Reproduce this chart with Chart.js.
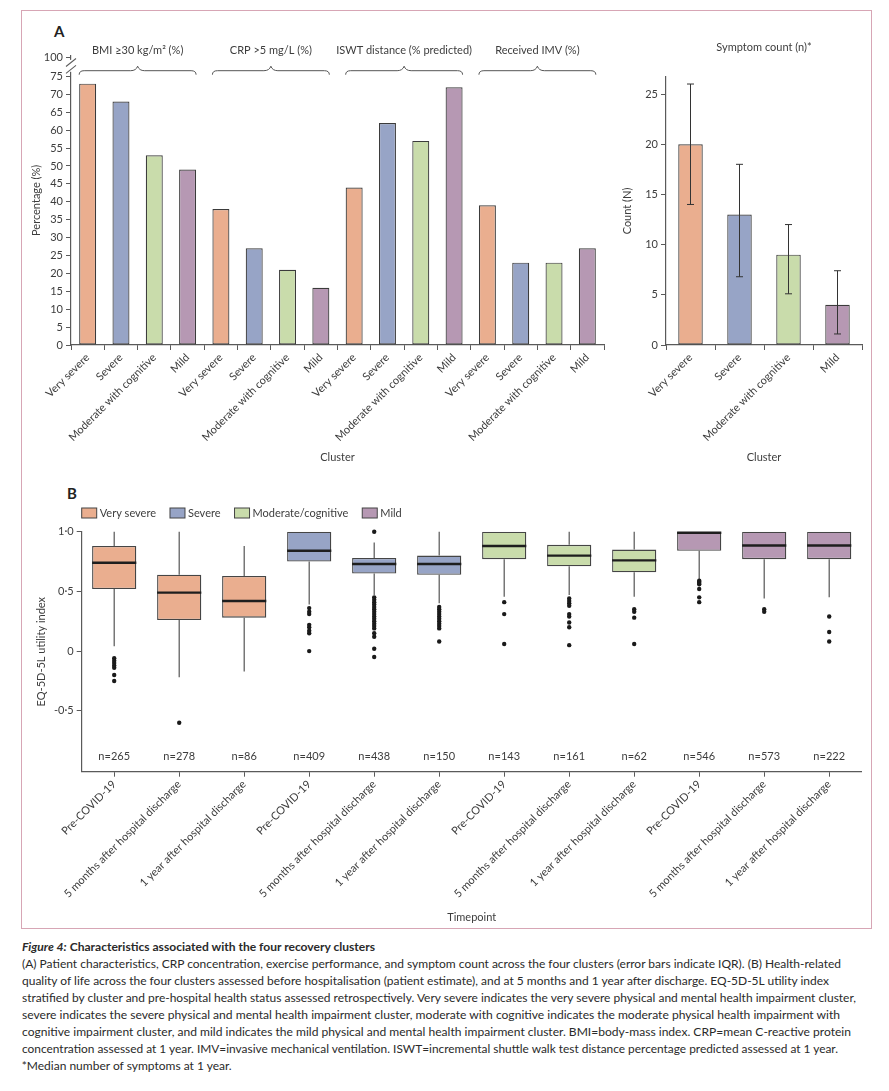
<!DOCTYPE html>
<html>
<head>
<meta charset="utf-8">
<script src="https://cdn.jsdelivr.net/npm/chart.js@4.4.1/dist/chart.umd.min.js"></script>
<style>
  body { margin: 0; background: #fff; width: 889px; height: 1091px; position: relative; overflow: hidden; font-family: Lato, "Open Sans", sans-serif; }
  #frame { position: absolute; left: 21px; top: 10px; width: 849px; height: 917px; border: 1.5px solid #d7a6b5; }
  canvas { position: absolute; }
  .panel { position: absolute; font-weight: bold; font-size: 15px; color: #222; }
  #caption { position: absolute; left: 21.7px; top: 937.5px; font-size: 12px; line-height: 17px; color: #2a2a2a; }
  #caption div { white-space: nowrap; }
  #caption span { display: inline-block; transform-origin: 0 0; }
</style>
</head>
<body>
<div id="frame"></div>
<div class="panel" style="left:54px;top:22px;">A</div>
<div class="panel" style="left:67px;top:484px;">B</div>
<canvas id="a1" width="600" height="460" style="left:21px;top:10px;"></canvas>
<canvas id="a2" width="272" height="460" style="left:600px;top:10px;"></canvas>
<canvas id="b" width="851" height="450" style="left:21px;top:480px;"></canvas>
<div id="caption">
  <div><span data-w="353"><i><b>Figure 4:</b></i> <b>Characteristics associated with the four recovery clusters</b></span></div>
  <div><span data-w="819">(A) Patient characteristics, CRP concentration, exercise performance, and symptom count across the four clusters (error bars indicate IQR). (B) Health-related</span></div>
  <div><span data-w="807">quality of life across the four clusters assessed before hospitalisation (patient estimate), and at 5 months and 1 year after discharge. EQ-5D-5L utility index</span></div>
  <div><span data-w="834">stratified by cluster and pre-hospital health status assessed retrospectively. Very severe indicates the very severe physical and mental health impairment cluster,</span></div>
  <div><span data-w="818">severe indicates the severe physical and mental health impairment cluster, moderate with cognitive indicates the moderate physical health impairment with</span></div>
  <div><span data-w="829">cognitive impairment cluster, and mild indicates the mild physical and mental health impairment cluster. BMI=body-mass index. CRP=mean C-reactive protein</span></div>
  <div><span data-w="816">concentration assessed at 1 year. IMV=invasive mechanical ventilation. ISWT=incremental shuttle walk test distance percentage predicted assessed at 1 year.</span></div>
  <div><span data-w="210">*Median number of symptoms at 1 year.</span></div>
</div>
<script>
// ---- data ----
const clusters = ["Very severe", "Severe", "Moderate with cognitive", "Mild"];
const legendNames = ["Very severe", "Severe", "Moderate/cognitive", "Mild"];
const groups = ["BMI \u226530 kg/m\u00b2 (%)", "CRP >5 mg/L (%)", "ISWT distance (% predicted)", "Received IMV (%)"];
const bmi = [73, 68, 53, 49];
const crp = [38, 27, 21, 16];
const iswt = [44, 62, 57, 72];
const imv = [39, 23, 23, 27];

const symMedian = [20, 13, 9, 4];
const symQ1 = [14, 6.8, 5.1, 1.1];
const symQ3 = [26, 18, 12, 7.4];

const timepoints = ["Pre-COVID-19", "5 months after hospital discharge", "1 year after hospital discharge"];
const nCounts = [265, 278, 86, 409, 438, 150, 143, 161, 62, 546, 573, 222];
const boxQ1 = [0.52, 0.26, 0.28, 0.75, 0.65, 0.64, 0.77, 0.71, 0.66, 0.84, 0.77, 0.77];
const boxMedian = [0.74, 0.49, 0.42, 0.84, 0.73, 0.73, 0.88, 0.80, 0.76, 1.0, 0.885, 0.885];
const boxQ3 = [0.88, 0.64, 0.63, 1.0, 0.78, 0.80, 1.0, 0.89, 0.85, 1.0, 1.0, 1.0];
const whiskerLow = [0.04, -0.22, -0.17, 0.39, 0.47, 0.40, 0.455, 0.47, 0.455, 0.60, 0.44, 0.45];
const whiskerHigh = [1.0, 1.0, 0.88, 1.0, 0.91, 1.0, 1.0, 1.0, 1.0, 1.0, 1.0, 1.0];
const outliers = [
  [-0.06, -0.08, -0.10, -0.12, -0.14, -0.20, -0.25],
  [-0.60],
  [],
  [0.36, 0.33, 0.31, 0.22, 0.20, 0.17, 0.15, 0.0],
  [1.0, 0.45, 0.43, 0.41, 0.39, 0.37, 0.35, 0.33, 0.31, 0.29, 0.27, 0.25, 0.23, 0.21, 0.19, 0.15, 0.12, 0.02, -0.05],
  [0.37, 0.35, 0.33, 0.31, 0.29, 0.27, 0.25, 0.23, 0.21, 0.19, 0.08],
  [0.41, 0.31, 0.06],
  [0.44, 0.42, 0.40, 0.38, 0.31, 0.29, 0.24, 0.20, 0.05],
  [0.35, 0.33, 0.28, 0.06],
  [0.59, 0.58, 0.57, 0.56, 0.52, 0.45, 0.41],
  [0.35, 0.33],
  [0.29, 0.16, 0.08]
];

// ---- style ----
const fills = ["#eaae8f", "#97a4c6", "#c9dcab", "#b698b3"];
const edge = "#3b3b3b";
const axisCol = "#5a5a5a";

Chart.defaults.font.family = "Lato, 'Open Sans', sans-serif";
Chart.defaults.font.size = 11;
Chart.defaults.color = "#3d3d3d";
Chart.defaults.animation = false;
Chart.defaults.plugins.legend.display = false;
Chart.defaults.plugins.tooltip.enabled = false;

const gridOpts = (offset) => ({ drawOnChartArea: false, tickLength: 5, color: axisCol, lineWidth: 1, offset: offset });
const borderOpts = { color: axisCol, width: 1.2 };

// ---- panel A, left: grouped percentages ----
const a1Values = [...bmi, ...crp, ...iswt, ...imv];
const a1Labels = groups.flatMap(() => clusters);

const a1Deco = {
  id: "a1Deco",
  afterDraw(chart) {
    const { ctx, chartArea, scales } = chart;
    const y = scales.y;
    const meta = chart.getDatasetMeta(0);
    ctx.save();
    // axis break between 75 and 100
    const ax = chartArea.left;
    const yTop = y.getPixelForValue(80.2) + 2;
    const yBot = y.getPixelForValue(76.3);
    ctx.fillStyle = "#fff";
    ctx.fillRect(ax - 2, yTop, 4, yBot - yTop);
    ctx.strokeStyle = axisCol;
    ctx.lineWidth = 1.1;
    [y.getPixelForValue(78.9), y.getPixelForValue(77.0)].forEach((yy) => {
      ctx.beginPath();
      ctx.moveTo(ax - 5, yy + 4);
      ctx.lineTo(ax + 5, yy - 4);
      ctx.stroke();
    });
    // group labels with curly braces
    ctx.fillStyle = "#3d3d3d";
    ctx.font = "11px Lato, 'Open Sans', sans-serif";
    ctx.textAlign = "center";
    ctx.textBaseline = "middle";
    ctx.strokeStyle = "#555";
    ctx.lineWidth = 1;
    groups.forEach((g, gi) => {
      const b0 = meta.data[gi * 4], b3 = meta.data[gi * 4 + 3];
      const x0 = b0.x - b0.width / 2, x1 = b3.x + b3.width / 2;
      const xm = (x0 + x1) / 2;
      const yb = chartArea.top + 15;
      ctx.fillText(g, xm, chartArea.top - 5.5);
      ctx.beginPath();
      ctx.moveTo(x0, yb + 4);
      ctx.quadraticCurveTo(x0, yb, x0 + 5, yb);
      ctx.lineTo(xm - 7, yb);
      ctx.quadraticCurveTo(xm - 1.5, yb, xm, yb - 4.5);
      ctx.quadraticCurveTo(xm + 1.5, yb, xm + 7, yb);
      ctx.lineTo(x1 - 5, yb);
      ctx.quadraticCurveTo(x1, yb, x1, yb + 4);
      ctx.stroke();
    });
    ctx.restore();
  }
};

new Chart(document.getElementById("a1"), {
  type: "bar",
  data: {
    labels: a1Labels,
    datasets: [{
      data: a1Values,
      backgroundColor: a1Values.map((v, i) => fills[i % 4]),
      borderColor: edge,
      borderWidth: 1.2,
      borderSkipped: false,
      barPercentage: 0.51,
      categoryPercentage: 1
    }]
  },
  options: {
    responsive: false,
    layout: { padding: { left: 0, right: 17, top: 45.7, bottom: 0 } },
    scales: {
      x: {
        grid: gridOpts(true),
        border: borderOpts,
        ticks: { minRotation: 45, maxRotation: 45, autoSkip: false, padding: 1 },
        title: { display: true, text: "Cluster", padding: { top: 0, bottom: 6 } },
        afterFit: (s) => { s.height = 125; }
      },
      y: {
        min: 0,
        max: 80.8,
        grid: gridOpts(false),
        border: borderOpts,
        ticks: { stepSize: 5, includeBounds: false, padding: 3, callback: (v) => (v > 76 ? "100" : v) },
        afterBuildTicks: (s) => { s.ticks = s.ticks.filter((t) => t.value <= 75).concat([{ value: 80.2 }]); },
        title: { display: true, text: "Percentage (%)", padding: { top: 9, bottom: 0 } },
        afterFit: (s) => { s.width = 50; }
      }
    }
  },
  plugins: [a1Deco]
});

// ---- panel A, right: symptom count with IQR ----
const errorBars = {
  id: "errorBars",
  afterDatasetsDraw(chart) {
    const { ctx, chartArea, scales } = chart;
    const meta = chart.getDatasetMeta(0);
    ctx.save();
    ctx.strokeStyle = "#333";
    ctx.lineWidth = 1;
    meta.data.forEach((bar, i) => {
      const lo = scales.y.getPixelForValue(symQ1[i]);
      const hi = scales.y.getPixelForValue(symQ3[i]);
      ctx.beginPath();
      ctx.moveTo(bar.x, lo); ctx.lineTo(bar.x, hi);
      ctx.moveTo(bar.x - 3.5, lo); ctx.lineTo(bar.x + 3.5, lo);
      ctx.moveTo(bar.x - 3.5, hi); ctx.lineTo(bar.x + 3.5, hi);
      ctx.stroke();
    });
    ctx.fillStyle = "#3d3d3d";
    ctx.font = "11px Lato, 'Open Sans', sans-serif";
    ctx.textAlign = "center";
    ctx.textBaseline = "middle";
    ctx.fillText("Symptom count (n)*", (chartArea.left + chartArea.right) / 2, 37);
    ctx.restore();
  }
};

new Chart(document.getElementById("a2"), {
  type: "bar",
  data: {
    labels: clusters,
    datasets: [{
      data: symMedian,
      backgroundColor: fills,
      borderColor: edge,
      borderWidth: 1.2,
      borderSkipped: false,
      barPercentage: 0.5,
      categoryPercentage: 1
    }]
  },
  options: {
    responsive: false,
    layout: { padding: { left: 0, right: 10, top: 67, bottom: 0 } },
    scales: {
      x: {
        grid: gridOpts(true),
        border: borderOpts,
        ticks: { minRotation: 45, maxRotation: 45, autoSkip: false, padding: 1 },
        title: { display: true, text: "Cluster", padding: { top: 0, bottom: 6 } },
        afterFit: (s) => { s.height = 125; }
      },
      y: {
        min: 0,
        max: 26.7,
        grid: gridOpts(false),
        border: borderOpts,
        ticks: { stepSize: 5, includeBounds: false, padding: 3 },
        title: { display: true, text: "Count (N)", padding: { top: 21, bottom: 0 } },
        afterFit: (s) => { s.width = 66; }
      }
    }
  },
  plugins: [errorBars]
});

// ---- panel B: EQ-5D-5L box plots ----
const bLabels = clusters.flatMap(() => timepoints);

const boxParts = {
  id: "boxParts",
  beforeDatasetsDraw(chart) {
    const { ctx } = chart;
    const meta = chart.getDatasetMeta(0);
    const y = chart.scales.y;
    ctx.save();
    ctx.strokeStyle = "#555";
    ctx.lineWidth = 1.2;
    meta.data.forEach((bar, i) => {
      ctx.beginPath();
      ctx.moveTo(bar.x, y.getPixelForValue(whiskerLow[i]));
      ctx.lineTo(bar.x, y.getPixelForValue(boxQ1[i]));
      ctx.moveTo(bar.x, y.getPixelForValue(boxQ3[i]));
      ctx.lineTo(bar.x, y.getPixelForValue(whiskerHigh[i]));
      ctx.stroke();
    });
    ctx.restore();
  },
  afterDatasetsDraw(chart) {
    const { ctx, chartArea, scales } = chart;
    const meta = chart.getDatasetMeta(0);
    ctx.save();
    ctx.strokeStyle = "#1e1e1e";
    ctx.lineWidth = 2.4;
    meta.data.forEach((bar, i) => {
      const y = scales.y.getPixelForValue(boxMedian[i]) + (boxMedian[i] >= 1 ? 1 : 0);
      ctx.beginPath();
      ctx.moveTo(bar.x - bar.width / 2, y);
      ctx.lineTo(bar.x + bar.width / 2, y);
      ctx.stroke();
    });
    // sample sizes
    ctx.fillStyle = "#3d3d3d";
    ctx.font = "11px Lato, 'Open Sans', sans-serif";
    ctx.textAlign = "center";
    ctx.textBaseline = "middle";
    meta.data.forEach((bar, i) => {
      ctx.fillText("n=" + nCounts[i], bar.x, scales.y.getPixelForValue(-0.88));
    });
    // legend
    ctx.font = "11px Lato, 'Open Sans', sans-serif";
    ctx.textAlign = "left";
    let lx = chartArea.left;
    const ly = 33;
    legendNames.forEach((name, i) => {
      ctx.fillStyle = fills[i];
      ctx.fillRect(lx, ly - 5, 15, 10);
      ctx.strokeStyle = "#444";
      ctx.lineWidth = 1;
      ctx.strokeRect(lx, ly - 5, 15, 10);
      ctx.fillStyle = "#3d3d3d";
      ctx.fillText(name, lx + 18, ly);
      lx += 18 + ctx.measureText(name).width + 14;
    });
    ctx.restore();
  }
};

new Chart(document.getElementById("b"), {
  type: "bar",
  data: {
    labels: bLabels,
    datasets: [
      {
        type: "bar",
        data: boxQ1.map((q, i) => [q, boxQ3[i]]),
        backgroundColor: bLabels.map((l, i) => fills[Math.floor(i / 3)]),
        borderColor: "#454545",
        borderWidth: 1.3,
        borderSkipped: false,
        grouped: false,
        barPercentage: 0.68,
        categoryPercentage: 1,
        order: 2
      },
      {
        type: "scatter",
        xAxisID: "xo",
        data: outliers.flatMap((arr, i) => arr.map((v) => ({ x: i, y: v }))),
        pointRadius: 2.2,
        pointBackgroundColor: "#1a1a1a",
        pointBorderWidth: 0,
        clip: false,
        order: 1
      }
    ]
  },
  options: {
    responsive: false,
    layout: { padding: { left: 0, right: 10.3, top: 51.7, bottom: 0 } },
    scales: {
      x: {
        grid: gridOpts(false),
        border: borderOpts,
        ticks: { minRotation: 45, maxRotation: 45, autoSkip: false, padding: 1 },
        title: { display: true, text: "Timepoint", padding: { top: 0, bottom: 6 } },
        afterFit: (s) => { s.height = 158.3; }
      },
      xo: { type: "linear", display: false, offset: false, grid: { offset: false }, min: -0.5, max: 11.5 },
      y: {
        min: -1.01,
        max: 1.0,
        grid: gridOpts(false),
        border: borderOpts,
        ticks: { padding: 3, callback: (v) => (v === 0 ? "0" : v.toFixed(1).replace(".", "\u00b7")) },
        afterBuildTicks: (s) => { s.ticks = [-0.5, 0, 0.5, 1].map((v) => ({ value: v })); },
        title: { display: true, text: "EQ-5D-5L utility index", padding: { top: 14, bottom: 0 } },
        afterFit: (s) => { s.width = 60.7; }
      }
    }
  },
  plugins: [boxParts]
});

// fit caption lines to the original line lengths
function fitCaption() {
  document.querySelectorAll("#caption span").forEach((s) => {
    s.style.transform = "none";
    const w = s.getBoundingClientRect().width;
    s.style.transform = "scaleX(" + (Number(s.dataset.w) / w) + ")";
  });
}
fitCaption();
if (document.fonts) document.fonts.ready.then(fitCaption);
</script>
</body>
</html>
